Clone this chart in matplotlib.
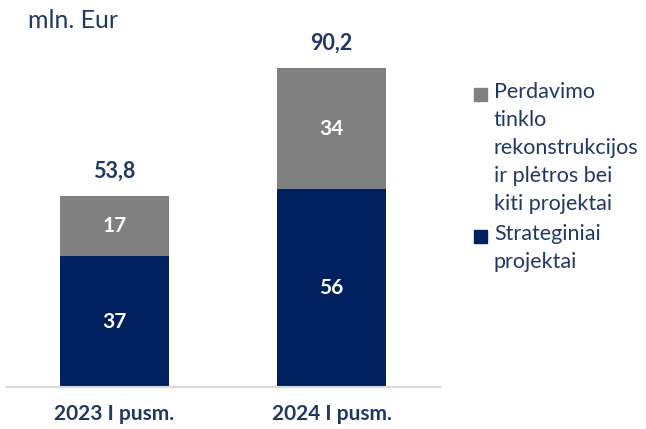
import matplotlib.pyplot as plt
from matplotlib.patches import Rectangle

# data
categories = ["2023 I pusm.", "2024 I pusm."]
strateginiai = [37, 56]
perdavimo = [17, 34]
totals = ["53,8", "90,2"]
series_labels = ["Perdavimo\ntinklo\nrekonstrukcijos\nir plėtros bei\nkiti projektai",
                 "Strateginiai\nprojektai"]

navy = "#002060"
grey = "#808080"
txt = "#1F3864"

plt.rcParams['font.family'] = ['Lato', 'DejaVu Sans']

fig = plt.figure(figsize=(6.46, 4.29), dpi=100)
ax = fig.add_axes([7/646, 42/429, 433/646, 354/429])

x = range(len(categories))
ax.bar(x, strateginiai, width=0.5, color=navy)
ax.bar(x, perdavimo, width=0.5, bottom=strateginiai, color=grey)

for i in x:
    ax.text(i, strateginiai[i] / 2, str(strateginiai[i]), ha="center", va="center",
            color="white", fontsize=15, fontweight="bold")
    ax.text(i, strateginiai[i] + perdavimo[i] / 2, str(perdavimo[i]), ha="center",
            va="center", color="white", fontsize=15, fontweight="bold")
    ax.text(i, strateginiai[i] + perdavimo[i] + 7, totals[i], ha="center",
            va="center", color=txt, fontsize=15.5, fontweight="bold")

ax.set_xlim(-0.495, 1.5)
ax.set_ylim(0, 100)
ax.set_xticks(list(x))
ax.set_xticklabels(categories, fontsize=15, fontweight="bold", color=txt)
ax.tick_params(axis="x", length=0, pad=12)
ax.set_yticks([])
for s in ["top", "left", "right"]:
    ax.spines[s].set_visible(False)
ax.spines["bottom"].set_color("#D9D9D9")
ax.spines["bottom"].set_linewidth(1.5)

fig.text(28/646, 1 - 20/429, "mln. Eur", fontsize=18, color=txt, va="center")

# legend drawn by hand
leg_colors = [grey, navy]
leg_top = [82, 224]
for lab, col, top in zip(series_labels, leg_colors, leg_top):
    fig.patches.append(Rectangle((474/646, 1 - (top + 19)/429), 13/646, 13/429,
                                 transform=fig.transFigure, color=col))
    fig.text(494/646, 1 - top/429, lab, fontsize=15.5, color=txt, va="top",
             linespacing=1.5)

fig.savefig("out.png", dpi=100)
